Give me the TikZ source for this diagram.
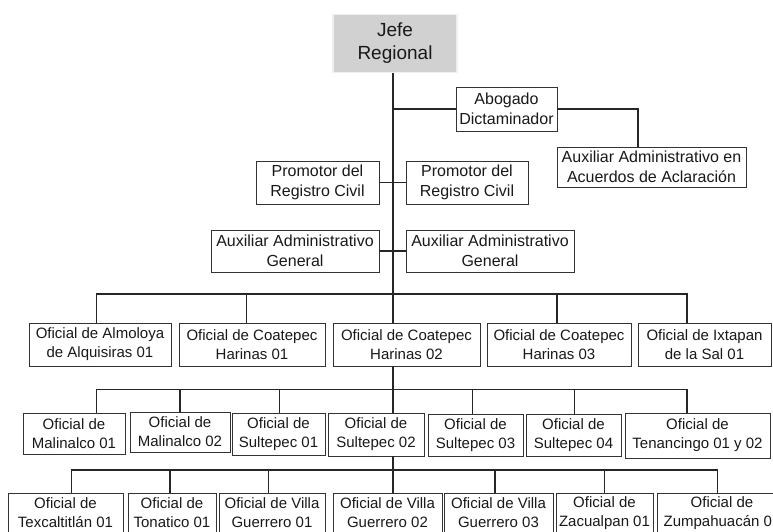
\documentclass[tikz,border=0pt]{standalone}
\usepackage{fontspec}
\setmainfont{Liberation Sans}
\begin{document}
\begin{tikzpicture}[x=1pt,y=-1pt,
  box/.style={draw=black!80, line width=0.8pt, fill=white, align=center, inner sep=0pt, text=black!90},
  upper/.style={box, font=\fontsize{16}{19.5}\selectfont},
  ofi/.style={box, font=\fontsize{15}{19}\selectfont},
  conn/.style={draw=black!85, line width=1.1pt},
  chief/.style={draw=black!6, line width=1.5pt, fill=black!18, align=center, inner sep=0pt, font=\fontsize{19}{23}\selectfont, text=black!90}]
\path[use as bounding box] (0,0) rectangle (773,531);
\fill[white] (0,0) rectangle (773,531);
\clip (0,0) rectangle (773,531);

\coordinate (m) at (393,0);
\coordinate (bus1) at (393,294);
\coordinate (bus2) at (393,389.5);
\coordinate (bus3) at (393,470);

% nodes
\node[chief, minimum width=124, minimum height=58] (jefe) at (395,43.5) {Jefe\\Regional};
\node[upper, minimum width=101, minimum height=44] (abog) at (506.5,109) {Abogado\\Dictaminador};
\node[upper, minimum width=189, minimum height=40] (acuer) at (651.5,167) {Auxiliar Administrativo en\\Acuerdos de Aclaración};
\node[upper, minimum width=123, minimum height=43] (promL) at (317.5,182.5) {Promotor del\\Registro Civil};
\node[upper, minimum width=122, minimum height=43] (promR) at (467,182.5) {Promotor del\\Registro Civil};
\node[upper, minimum width=168, minimum height=42] (auxL) at (295,251) {Auxiliar Administrativo\\General};
\node[upper, minimum width=168, minimum height=42] (auxR) at (490,251) {Auxiliar Administrativo\\General};

\node[ofi, minimum width=142, minimum height=43] (a1) at (100,344.5) {Oficial de Almoloya\\de Alquisiras 01};
\node[ofi, minimum width=146, minimum height=43] (a2) at (252,344.5) {Oficial de Coatepec\\Harinas 01};
\node[ofi, minimum width=147, minimum height=43] (a3) at (406.5,344.5) {Oficial de Coatepec\\Harinas 02};
\node[ofi, minimum width=144, minimum height=43] (a4) at (559,344.5) {Oficial de Coatepec\\Harinas 03};
\node[ofi, minimum width=133, minimum height=43] (a5) at (704.5,344.5) {Oficial de Ixtapan\\de la Sal 01};

\node[ofi, minimum width=102, minimum height=41] (b1) at (74,433.5) {Oficial de\\Malinalco 01};
\node[ofi, minimum width=100, minimum height=40] (b2) at (180,432) {Oficial de\\Malinalco 02};
\node[ofi, minimum width=93, minimum height=42] (b3) at (278.5,434) {Oficial de\\Sultepec 01};
\node[ofi, minimum width=96, minimum height=43] (b4) at (376,434.5) {Oficial de\\Sultepec 02};
\node[ofi, minimum width=95, minimum height=42] (b5) at (475.5,435) {Oficial de\\Sultepec 03};
\node[ofi, minimum width=95, minimum height=42] (b6) at (573.5,435) {Oficial de\\Sultepec 04};
\node[ofi, minimum width=145, minimum height=45] (b7) at (697.5,435.5) {Oficial de\\Tenancingo 01 y 02};

\node[ofi, minimum width=115, minimum height=40] (c1) at (65.5,513) {Oficial de\\Texcaltitlán 01};
\node[ofi, minimum width=88, minimum height=40] (c2) at (172,513) {Oficial de\\Tonatico 01};
\node[ofi, minimum width=106, minimum height=40] (c3) at (272,513) {Oficial de Villa\\Guerrero 01};
\node[ofi, minimum width=109, minimum height=40] (c4) at (387.5,513) {Oficial de Villa\\Guerrero 02};
\node[ofi, minimum width=109, minimum height=40] (c5) at (498.5,513) {Oficial de Villa\\Guerrero 03};
\node[ofi, minimum width=97, minimum height=40] (c6) at (604.5,513) {Oficial de\\Zacualpan 01};
\node[ofi, minimum width=130, minimum height=40] (c7) at (722,513) {Oficial de\\Zumpahuacán 01};

% connectors
\begin{scope}[on background layer/.style={}]
\draw[conn] (jefe.south -| m) -- (a3.north -| m);
\draw[conn] (abog.west) -- (abog.west -| m);
\draw[conn] (abog.east) -| ([xshift=-13.5pt]acuer.north);
\draw[conn] (promL.east) -- (promL.east -| m);
\draw[conn] (promR.west) -- (promR.west -| m);
\draw[conn] (auxL.east) -- (auxL.east -| m);
\draw[conn] (auxR.west) -- (auxR.west -| m);

\draw[conn] ([xshift=-3.3pt]a1.north) |- (bus1) -| ([xshift=-17.5pt]a5.north);
\draw[conn] ([xshift=-5.3pt]a2.north) -- ([xshift=-5.3pt]a2.north |- bus1);
\draw[conn] ([xshift=-2pt]a4.north) -- ([xshift=-2pt]a4.north |- bus1);

\draw[conn] (a3.south -| m) -- (b4.north -| m);
\draw[conn] ([xshift=22.7pt]b1.north) |- (bus2) -| ([xshift=-10.5pt]b7.north);
\draw[conn] (b2.north) -- (b2.north |- bus2);
\draw[conn] ([xshift=0.8pt]b3.north) -- ([xshift=0.8pt]b3.north |- bus2);
\draw[conn] ([xshift=-2.8pt]b5.north) -- ([xshift=-2.8pt]b5.north |- bus2);
\draw[conn] ([xshift=0.8pt]b6.north) -- ([xshift=0.8pt]b6.north |- bus2);

\draw[conn] (b4.south -| m) -- (c4.north -| m);
\draw[conn] ([xshift=6.2pt]c1.north) |- (bus3) -| ([xshift=-4.3pt]c7.north);
\draw[conn] ([xshift=-2pt]c2.north) -- ([xshift=-2pt]c2.north |- bus3);
\draw[conn] ([xshift=-3.7pt]c3.north) -- ([xshift=-3.7pt]c3.north |- bus3);
\draw[conn] ([xshift=-3.5pt]c5.north) -- ([xshift=-3.5pt]c5.north |- bus3);
\draw[conn] (c6.north) -- (c6.north |- bus3);
\end{scope}
\end{tikzpicture}
\end{document}
